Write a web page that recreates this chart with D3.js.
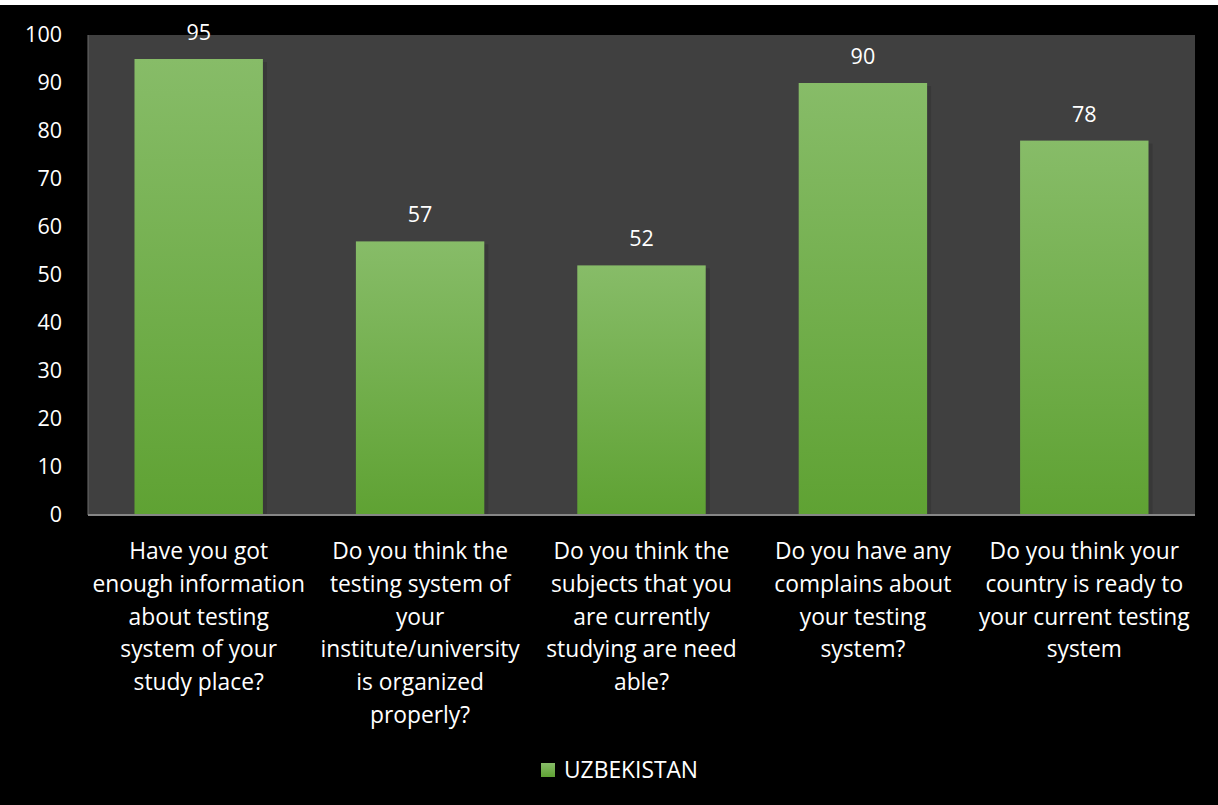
<!DOCTYPE html>
<html>
<head>
<meta charset="utf-8">
<script src="https://cdn.jsdelivr.net/npm/d3@7"></script>
<style>
  html, body { margin: 0; padding: 0; background: #000; }
  svg { display: block; }
  text { font-family: "Open Sans", "Noto Sans", sans-serif; fill: #fff; }
</style>
</head>
<body>
<div id="chart"></div>
<script>
// Define SVG area dimensions
var svgWidth = 1218;
var svgHeight = 805;

// ------------ DATA ------------
var categories = [
  ["Have you got", "enough information", "about testing", "system of your", "study place?"],
  ["Do you think the", "testing system of", "your", "institute/university", "is organized", "properly?"],
  ["Do you think the", "subjects that you", "are currently", "studying are need", "able?"],
  ["Do you have any", "complains about", "your testing", "system?"],
  ["Do you think your", "country is ready to", "your current testing", "system"]
];
var values = [95, 57, 52, 90, 78];
var yTicks = [0, 10, 20, 30, 40, 50, 60, 70, 80, 90, 100];
var seriesName = "UZBEKISTAN";

// plot area
var margin = { top: 35, right: 23, bottom: 290, left: 88 };
var chartWidth = svgWidth - margin.left - margin.right;
var chartHeight = svgHeight - margin.top - margin.bottom;

var svg = d3.select("#chart")
  .append("svg")
  .attr("width", svgWidth)
  .attr("height", svgHeight);

// black background, white strip at the top
svg.append("rect").attr("width", svgWidth).attr("height", svgHeight).attr("fill", "#000");
svg.append("rect").attr("width", svgWidth).attr("height", 5).attr("fill", "#fff");

var defs = svg.append("defs");
var grad = defs.append("linearGradient")
  .attr("id", "barGrad")
  .attr("x1", 0).attr("y1", 0).attr("x2", 0).attr("y2", 1);
grad.append("stop").attr("offset", "0%").attr("stop-color", "#87bc68");
grad.append("stop").attr("offset", "100%").attr("stop-color", "#5fa233");

var chartGroup = svg.append("g")
  .attr("transform", `translate(${margin.left}, ${margin.top})`);

// plot background
chartGroup.append("rect")
  .attr("width", chartWidth)
  .attr("height", chartHeight)
  .attr("fill", "#404040");

// ------------ SCALES ------------
var x = d3.scaleBand()
  .domain(d3.range(values.length))
  .range([0, chartWidth])
  .paddingInner(0.42)
  .paddingOuter(0.21);

var y = d3.scaleLinear()
  .domain([0, 100])
  .range([chartHeight, 0]);

// left axis (labels only)
var leftAxis = d3.axisLeft(y).tickValues(yTicks).tickSize(0).tickPadding(26);
var yAxisG = chartGroup.append("g").call(leftAxis);
yAxisG.select(".domain").remove();
yAxisG.selectAll("text")
  .attr("font-size", "21.5px")
  .attr("fill", "#fff")
  .attr("font-family", "Open Sans, sans-serif");

// left plot edge
chartGroup.append("line")
  .attr("x1", 0).attr("x2", 0).attr("y1", 0).attr("y2", chartHeight)
  .attr("stroke", "#6a6a6a").attr("stroke-width", 1);

// ------------ BARS ------------
// subtle shadow on the right of each bar
chartGroup.append("g")
  .selectAll("rect")
  .data(values)
  .enter()
  .append("rect")
    .attr("x", (d, i) => x(i) + 4)
    .attr("y", d => y(d) + 3)
    .attr("width", x.bandwidth())
    .attr("height", d => chartHeight - y(d) - 3)
    .attr("fill", "#383838");

chartGroup.append("g")
  .selectAll("rect")
  .data(values)
  .enter()
  .append("rect")
    .attr("x", (d, i) => x(i))
    .attr("y", d => y(d))
    .attr("width", x.bandwidth())
    .attr("height", d => chartHeight - y(d))
    .attr("fill", "url(#barGrad)");

// value labels
chartGroup.append("g")
  .selectAll("text")
  .data(values)
  .enter()
  .append("text")
    .attr("x", (d, i) => x(i) + x.bandwidth() / 2)
    .attr("y", d => y(d) - 19)
    .attr("text-anchor", "middle")
    .attr("font-size", "21.5px")
    .text(d => d);

// bottom axis line
chartGroup.append("line")
  .attr("x1", 0).attr("x2", chartWidth)
  .attr("y1", chartHeight).attr("y2", chartHeight)
  .attr("stroke", "#868686").attr("stroke-width", 2);

// category labels
var catG = chartGroup.append("g")
  .selectAll("text")
  .data(categories)
  .enter()
  .append("text")
    .attr("text-anchor", "middle")
    .attr("font-size", "22.8px")
    .attr("transform", (d, i) => `translate(${x(i) + x.bandwidth() / 2}, ${chartHeight + 44})`);

catG.selectAll("tspan")
  .data(d => d)
  .enter()
  .append("tspan")
    .attr("x", 0)
    .attr("y", (d, j) => j * 32.8)
    .text(d => d);

// ------------ LEGEND ------------
var legend = svg.append("g").attr("transform", "translate(541, 763)");
legend.append("rect")
  .attr("width", 14).attr("height", 14)
  .attr("fill", "url(#barGrad)");
legend.append("text")
  .attr("x", 23).attr("y", 15)
  .attr("font-size", "22.8px")
  .text(seriesName);
</script>
</body>
</html>
